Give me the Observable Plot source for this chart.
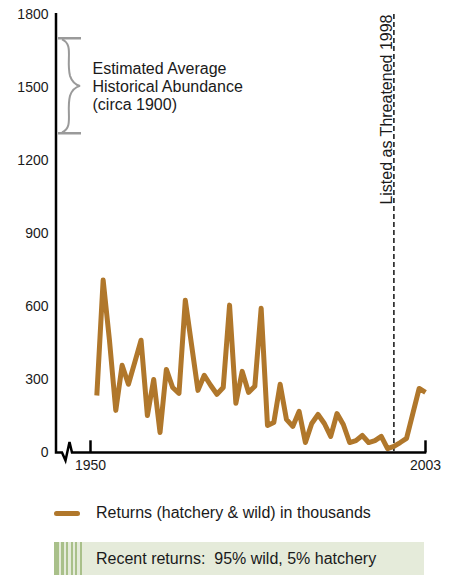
<!DOCTYPE html>
<html>
<head>
<meta charset="utf-8">
<script src="https://cdn.jsdelivr.net/npm/d3@7"></script>
<script src="https://cdn.jsdelivr.net/npm/@observablehq/plot@0.6"></script>
<style>
  html, body { margin: 0; padding: 0; background: #fff; }
  body { font-family: "Liberation Sans", Arial, Helvetica, sans-serif; color: #1a1a1a; width: 451px; }
  #chart svg { display: block; }
  #legend { position: relative; width: 451px; height: 96px; font-size: 16px; }
  #legend .swatch { position: absolute; left: 54px; top: 30.5px; width: 26px; height: 5px; border-radius: 2.5px; background: #b0772b; }
  #legend .t1 { position: absolute; left: 96px; top: 24px; line-height: 18px; white-space: pre; }
  #legend .box { position: absolute; left: 54px; top: 62px; width: 370px; height: 33px; background: #e5ebda; }
  #legend .box .t2 { position: absolute; left: 42px; top: 8px; line-height: 18px; white-space: pre; }
  #legend .stripe { position: absolute; top: 0; height: 100%; background: #a9c08a; }
</style>
</head>
<body>
<div id="chart"></div>
<div id="legend"></div>
<script>
// ---- data ----
const startYear = 1951;
const returns = [
  236, 710, 463, 175, 360, 282, 372, 463, 154, 302,   // 1951-1960
  84, 343, 269, 245, 627, 442, 257, 319, 278, 241,    // 1961-1970
  269, 607, 204, 335, 249, 274, 594, 113, 125, 282,   // 1971-1980
  138, 109, 171, 43, 121, 158, 121, 68, 162, 117,     // 1981-1990
  43, 51, 72, 43, 51, 68, 18, 27, 43, 60,             // 1991-2000
  163, 265, 249                                        // 2001-2003
];
const years = returns.map((_, i) => startYear + i);
const xTicks = [1950, 2003];
const yTicks = [0, 300, 600, 900, 1200, 1500, 1800];
const historicalRange = [1310, 1700];
const listingYear = 1998;
const historicalText = "Estimated Average\nHistorical Abundance\n(circa 1900)";
const listingText = "Listed as Threatened 1998";
const legendLineText = "Returns (hatchery & wild) in thousands";
const legendBoxText = "Recent returns:  95% wild, 5% hatchery";

const table = years.map((year, i) => ({year, value: returns[i]}));

const lineColor = "#b0772b";
const font = '"Liberation Sans", Arial, Helvetica, sans-serif';

// axis frame with a break on the x axis
function axisFrame(index, scales, values, dimensions) {
  const g = d3.create("svg:g");
  const x0 = dimensions.marginLeft;
  const y0 = scales.y(0);
  const yTop = scales.y(1800) - 1;
  const xEnd = scales.x(xTicks[1]) + 1.25;
  g.append("path")
    .attr("d", `M${x0},${yTop}V${y0}H${x0 + 6}L${x0 + 9.5},${y0 + 8}L${x0 + 13.5},${y0 - 10.5}L${x0 + 16},${y0}H${xEnd}`)
    .attr("fill", "none")
    .attr("stroke", "#000")
    .attr("stroke-width", 2.5)
    .attr("stroke-linejoin", "miter");
  return g.node();
}

// curly brace for the historical abundance range
function brace(index, scales, values, dimensions) {
  const g = d3.create("svg:g")
    .attr("fill", "none").attr("stroke", "#9a9a9a").attr("stroke-width", 2);
  const xl = dimensions.marginLeft + 2;
  const yT = scales.y(historicalRange[1]);
  const yB = scales.y(historicalRange[0]);
  const yM = (yT + yB) / 2;
  g.append("path").attr("d", `M${xl},${yT}H${xl + 23}M${xl},${yB}H${xl + 23}`).attr("stroke-width", 2.5);
  g.append("path").attr("d",
    `M${xl + 4},${yT + 1}C${xl + 16},${yT + 6} ${xl + 8},${yM - 26} ${xl + 12},${yM - 10}` +
    `C${xl + 14},${yM - 4} ${xl + 18},${yM - 1} ${xl + 22},${yM}` +
    `C${xl + 18},${yM + 1} ${xl + 14},${yM + 4} ${xl + 12},${yM + 10}` +
    `C${xl + 8},${yM + 26} ${xl + 16},${yB - 6} ${xl + 4},${yB - 1}`);
  return g.node();
}

const chart = Plot.plot({
  width: 451,
  height: 480,
  marginTop: 14,
  marginBottom: 27.5,
  marginLeft: 56,
  marginRight: 26,
  style: {fontFamily: font, fontSize: "14px", color: "#1a1a1a", background: "#fff", overflow: "visible"},
  x: {domain: [1950, 2003], range: [90, 425]},
  y: {domain: [0, 1800]},
  marks: [
    Plot.axisY({ticks: yTicks, tickSize: 0, tickPadding: 8, label: null, fontSize: 14, tickFormat: d => String(d)}),
    Plot.axisX({ticks: xTicks, tickSize: 0, tickPadding: 7, label: null, fontSize: 14, tickFormat: d => String(d)}),
    Plot.ruleX([listingYear], {stroke: "#111", strokeWidth: 1.5, strokeDasharray: "5,3"}),
    Plot.text([listingText], {x: listingYear, frameAnchor: "top", text: d => d, rotate: -90, textAnchor: "end", lineAnchor: "bottom", dx: -2, fontSize: 16, fill: "#1a1a1a"}),
    Plot.text([historicalText], {x: xTicks[0], y: d3.mean(historicalRange), text: d => d, textAnchor: "start", dx: 2, fontSize: 16, lineHeight: 1.125, fill: "#1a1a1a"}),
    brace,
    Plot.line(table, {x: "year", y: "value", stroke: lineColor, strokeWidth: 5, strokeLinejoin: "round", strokeLinecap: "butt"}),
    Plot.ruleX(xTicks, {y1: 0, y2: 50, stroke: "#000", strokeWidth: 2.5}),
    axisFrame
  ]
});
document.getElementById("chart").appendChild(chart);

// legend
const legend = document.getElementById("legend");
legend.innerHTML = `
  <div class="swatch"></div>
  <div class="t1"></div>
  <div class="box">
    <div class="stripe" style="left:0px;width:5px"></div>
    <div class="stripe" style="left:6.5px;width:3px"></div>
    <div class="stripe" style="left:11.5px;width:2.5px"></div>
    <div class="stripe" style="left:16.5px;width:2.5px"></div>
    <div class="stripe" style="left:20.5px;width:2.5px"></div>
    <div class="stripe" style="left:25.5px;width:2.5px"></div>
    <div class="t2"></div>
  </div>`;
legend.querySelector(".t1").textContent = legendLineText;
legend.querySelector(".t2").textContent = legendBoxText;
</script>
</body>
</html>
